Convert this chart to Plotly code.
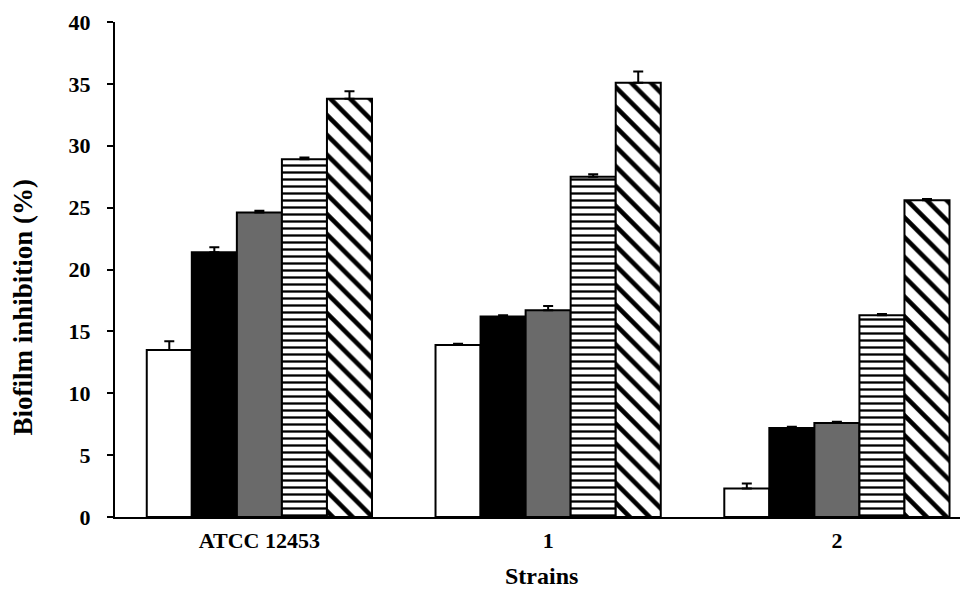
import plotly.graph_objects as go

categories = ["ATCC 12453", "1", "2"]
series_names = ["S1", "S2", "S3", "S4", "S5"]
values = [
    [13.5, 13.9, 2.3],
    [21.4, 16.2, 7.2],
    [24.6, 16.7, 7.6],
    [28.9, 27.5, 16.3],
    [33.8, 35.1, 25.6],
]
errors = [
    [0.7, 0.1, 0.4],
    [0.4, 0.1, 0.1],
    [0.15, 0.35, 0.1],
    [0.15, 0.2, 0.1],
    [0.6, 0.9, 0.1],
]
y_ticks = [0, 5, 10, 15, 20, 25, 30, 35, 40]
x_title = "Strains"
y_title = "Biofilm inhibition (%)"

fills = ["white", "black", "#6a6a6a", "white", "white"]
patterns = ["", "", "", "-", "\\"]

FONT = "Liberation Serif, Times New Roman, serif"

fig = go.Figure()
for i, name in enumerate(series_names):
    fig.add_trace(go.Bar(
        x=categories, y=values[i], name=name,
        marker=dict(
            color=fills[i],
            line=dict(color="black", width=2),
            pattern=dict(shape=patterns[i], fgcolor="black", bgcolor="white",
                         size=7 if patterns[i] == "-" else 14,
                         solidity=0.33,
                         fillmode="replace"),
        ),
        error_y=dict(type="data", array=errors[i], arrayminus=[0] * len(errors[i]),
                     symmetric=False, color="black", thickness=2, width=5),
    ))

fig.update_layout(
    width=960, height=583,
    margin=dict(l=107, r=0, t=14, b=74),
    paper_bgcolor="white", plot_bgcolor="white",
    barmode="group", bargap=0.22, bargroupgap=0,
    showlegend=False,
    font=dict(family=FONT, size=20, color="black"),
    xaxis=dict(
        range=[-0.5, 2.454],
        showline=True, linecolor="black", linewidth=2,
        ticks="", showgrid=False,
        tickfont=dict(family=FONT, size=22, color="black", weight="bold"),
        ticklabelstandoff=3,
    ),
    yaxis=dict(
        range=[0, 40], tickvals=y_ticks,
        showline=True, linecolor="black", linewidth=2,
        ticks="outside", ticklen=6, tickwidth=2, tickcolor="black",
        showgrid=False, zeroline=False,
        tickfont=dict(family=FONT, size=22, color="black", weight="bold"),
        ticklabelstandoff=12,
    ),
    annotations=[
        dict(text=x_title, xref="paper", yref="paper", x=0.5, y=-0.119,
             xanchor="center", yanchor="middle", showarrow=False,
             font=dict(family=FONT, size=24, color="black", weight="bold")),
        dict(text=y_title, xref="paper", yref="paper", x=-0.108, y=0.425,
             xanchor="center", yanchor="middle", showarrow=False, textangle=-90,
             font=dict(family=FONT, size=27, color="black", weight="bold")),
    ],
)

fig.write_html("out.html")
